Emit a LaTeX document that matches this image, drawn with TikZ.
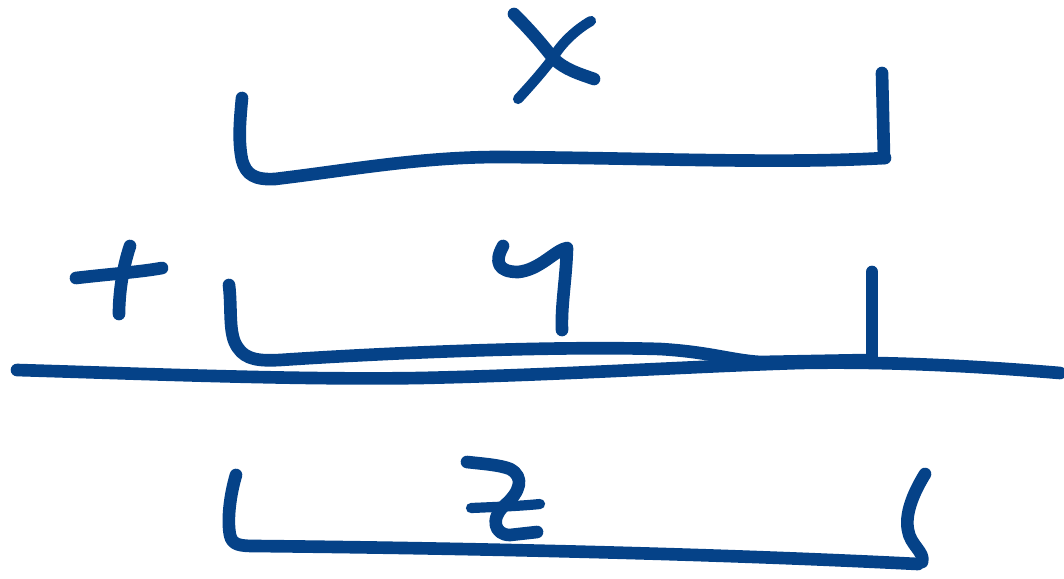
\documentclass[tikz,border=0pt]{standalone}
\definecolor{inkblue}{RGB}{5,66,136}
\tikzset{
  pen/.style={draw=inkblue, line width=7.2pt, line cap=round, line join=round},
  thinpen/.style={pen, line width=5.8pt}
}
\begin{document}
\begin{tikzpicture}[x=0.02cm,y=-0.02cm]
    % Canvas (pixel units of the sketch)
    \useasboundingbox (0,0) rectangle (1064,578);
    % Letter x
    \draw[pen] (514,14) .. controls (535,35) and (545,48) .. (553,58)
        .. controls (565,70) and (580,74) .. (594,79);
    \draw[thinpen] (591,21) .. controls (575,30) and (560,45) .. (553,58)
        .. controls (540,75) and (528,88) .. (518,99);
    % First bracket
    \draw[pen] (242,98) .. controls (240,120) and (238,140) .. (242,160)
        .. controls (246,175) and (255,180) .. (275,179)
        .. controls (350,170) and (420,157) .. (500,157)
        .. controls (650,158) and (780,164) .. (885,158);
    \draw[pen] (882,73) -- (884,158);
    % Plus sign
    \draw[pen] (76,278) .. controls (110,274) and (140,272) .. (162,268);
    \draw[pen] (130,246) .. controls (122,270) and (119,295) .. (119,314);
    % Letter y
    \draw[pen] (503,246) .. controls (494,262) and (498,272) .. (518,272)
        .. controls (540,270) and (555,250) .. (567,248)
        .. controls (566,280) and (561,305) .. (562,330);
    % Second bracket
    \draw[pen] (229,285) .. controls (232,310) and (228,335) .. (238,348)
        .. controls (246,360) and (260,361) .. (280,360)
        .. controls (400,352) and (560,346) .. (660,349)
        .. controls (710,352) and (730,360) .. (760,362)
        -- (870,360);
    \draw[pen] (872,272) -- (872,360);
    % Sum line
    \draw[pen] (17,370) .. controls (150,374) and (300,380) .. (420,378)
        .. controls (560,375) and (700,366) .. (800,363)
        .. controls (900,361) and (1000,368) .. (1060,373);
    % Letter z
    \draw[pen] (467,462) .. controls (485,464) and (500,465) .. (510,469)
        .. controls (525,477) and (520,492) .. (505,505)
        .. controls (490,518) and (494,535) .. (510,535)
        -- (537,532);
    \draw[thinpen] (471,508) .. controls (495,507) and (520,506) .. (540,504);
    % Third bracket
    \draw[pen] (236,475) .. controls (230,495) and (227,520) .. (230,535)
        .. controls (232,545) and (240,546) .. (255,546)
        .. controls (450,548) and (700,553) .. (918,564);
    \draw[pen] (925,474) .. controls (912,495) and (905,515) .. (908,530)
        .. controls (910,545) and (925,552) .. (922,562);
\end{tikzpicture}
\end{document}
